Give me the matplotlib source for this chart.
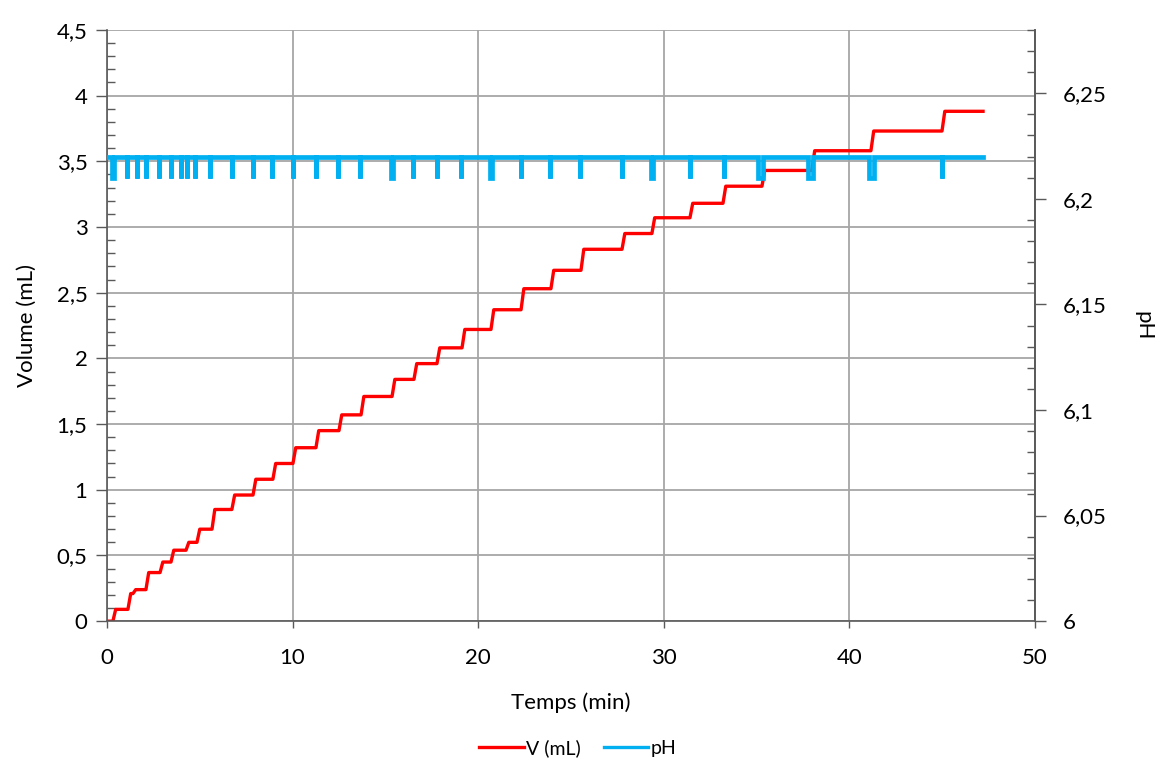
import numpy as np
import matplotlib
matplotlib.use('Agg')
import matplotlib.pyplot as plt
from matplotlib.ticker import MultipleLocator, FuncFormatter

plt.rcParams['font.family'] = ['Lato', 'DejaVu Sans']

# Volume staircase: time of each addition (min) and volume reached (mL)
step_times = [0.32, 1.13, 1.40, 2.10, 2.86, 3.45, 4.26, 4.85, 5.66, 6.73,
              7.87, 8.94, 10.02, 11.26, 12.50, 13.69, 15.36, 16.54, 17.78,
              19.13, 20.69, 22.31, 23.92, 25.54, 27.75, 29.36, 31.41, 33.19,
              35.29, 37.98, 41.16, 44.99]
step_volumes = [0.09, 0.21, 0.24, 0.37, 0.45, 0.54, 0.60, 0.70, 0.85, 0.96,
                1.08, 1.20, 1.32, 1.45, 1.57, 1.71, 1.84, 1.96, 2.08, 2.22,
                2.37, 2.53, 2.67, 2.83, 2.95, 3.07, 3.18, 3.31, 3.43, 3.58,
                3.73, 3.88]
t_end = 47.2

# pH: baseline and short dips (start time, duration)
ph_base = 6.22
ph_low = 6.21
dip_times = [0.25, 1.08, 1.62, 2.10, 2.80, 3.45, 3.99, 4.31, 4.74, 5.55,
             6.73, 7.87, 8.89, 10.02, 11.26, 12.45, 13.63, 15.30, 16.49,
             17.78, 19.07, 20.64, 22.31, 23.87, 25.48, 27.75, 29.31, 31.41,
             33.24, 35.10, 37.75, 41.05, 44.99]
dip_widths = [0.15, 0.02, 0.02, 0.02, 0.02, 0.02, 0.02, 0.02, 0.02, 0.02,
              0.02, 0.02, 0.02, 0.02, 0.02, 0.02, 0.02, 0.12, 0.02,
              0.02, 0.02, 0.10, 0.02, 0.02, 0.02, 0.02, 0.10, 0.02,
              0.02, 0.25, 0.28, 0.28, 0.02]

# build line vertices
vt, vv = [0.0], [0.0]
prev = 0.0
for t, v in zip(step_times, step_volumes):
    vt += [t, t + 0.15]
    vv += [prev, v]
    prev = v
vt.append(t_end)
vv.append(prev)

pt, pv = [0.0], [ph_base]
for t, w in zip(dip_times, dip_widths):
    pt += [t, t, t + w, t + w]
    pv += [ph_base, ph_low, ph_low, ph_base]
pt.append(t_end)
pv.append(ph_base)

comma = FuncFormatter(lambda x, pos: ('%g' % round(x, 4)).replace('.', ','))

fig = plt.figure(figsize=(11.55, 7.65), dpi=100)
ax1 = fig.add_axes([0.0926, 0.188, 0.8035, 0.773])
ax2 = ax1.twinx()

l1, = ax1.plot(vt, vv, color='#FF0000', lw=2.4, label='V (mL)')
l2, = ax2.plot(pt, pv, color='#00B0F0', lw=3.4, label='pH',
               solid_joinstyle='miter')

ax1.set_xlim(0, 50)
ax1.set_ylim(0, 4.5)
ax2.set_ylim(6, 6.28)

ax1.xaxis.set_major_locator(MultipleLocator(10))
ax1.yaxis.set_major_locator(MultipleLocator(0.5))
ax1.yaxis.set_minor_locator(MultipleLocator(0.1))
ax2.yaxis.set_major_locator(MultipleLocator(0.05))
ax2.yaxis.set_minor_locator(MultipleLocator(0.01))
ax1.yaxis.set_major_formatter(comma)
ax2.yaxis.set_major_formatter(comma)

ax1.grid(True, which='major', color='#A6A6A6', lw=1.3)
ax1.set_axisbelow(True)

for ax in (ax1, ax2):
    ax.spines['top'].set_visible(False)
    for s in ax.spines.values():
        s.set_color('#595959')
        s.set_linewidth(1.2)
ax2.spines['left'].set_visible(False)
ax2.spines['bottom'].set_visible(False)

ax1.tick_params(axis='both', which='major', labelsize=16, length=8,
                direction='out', color='#595959', width=1.0, pad=6)
ax1.tick_params(axis='y', which='minor', length=6, direction='in',
                color='#595959', width=1.0)
ax1.tick_params(axis='x', which='major', length=5, pad=14)
ax2.tick_params(axis='y', which='major', labelsize=16, length=8,
                direction='out', color='#595959', width=1.0, pad=12)
ax2.tick_params(axis='y', which='minor', length=6, direction='in',
                color='#595959', width=1.0)

ax1.set_xlabel('Temps (min)', fontsize=16, labelpad=18)
ax1.set_ylabel('Volume (mL)', fontsize=16, labelpad=14)
ax2.set_ylabel('pH', fontsize=16, rotation=-90, va='center', ha='center')
ax2.yaxis.set_label_coords(1.117, 0.5)

leg = fig.legend([l1, l2], ['V (mL)', 'pH'], loc='lower center',
                 bbox_to_anchor=(0.5, -0.012), ncol=2, frameon=False,
                 fontsize=14, handlelength=2.3, handletextpad=0.1,
                 columnspacing=1.2)
for h in leg.legend_handles:
    h.set_linewidth(2.4)

plt.savefig('out.png', dpi=100)
plt.close()
